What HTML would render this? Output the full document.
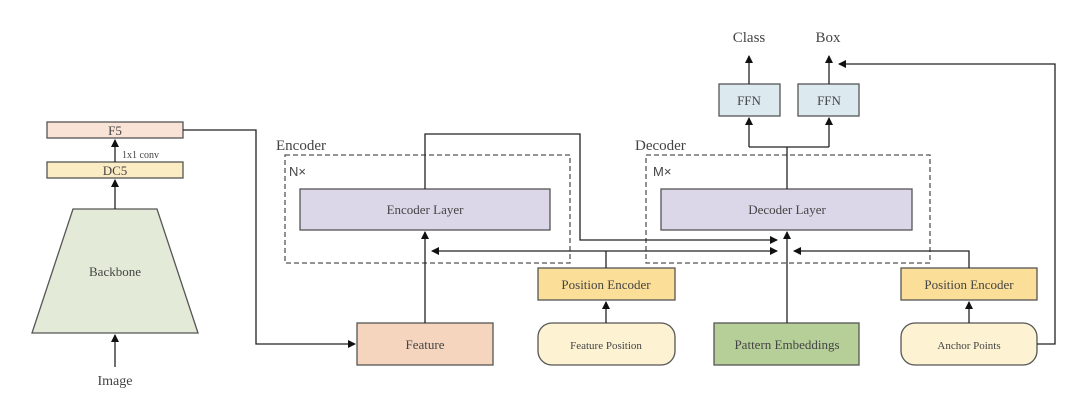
<!DOCTYPE html>
<html><head><meta charset="utf-8"><style>
html,body{margin:0;padding:0;background:#fff;}
svg{display:block;}
text{font-family:"Liberation Serif","DejaVu Serif",serif;fill:#444;}
</style></head><body>
<svg width="1080" height="405" viewBox="0 0 1080 405" xmlns="http://www.w3.org/2000/svg">
<defs>
<marker id="a" markerWidth="8" markerHeight="8" refX="7" refY="4" orient="auto" markerUnits="userSpaceOnUse">
<path d="M0,0 L8,4 L0,8 z" fill="#111"/></marker>
</defs>
<g stroke="#555" stroke-width="1.3">
<!-- left -->
<rect x="47" y="122" width="136" height="16" fill="#f9e3d6"/>
<rect x="47" y="162" width="136" height="16" fill="#fcecc4"/>
<polygon points="73,209 157,209 198,333 32,333" fill="#e3ebd8"/>
<!-- encoder -->
<rect x="285" y="155" width="285" height="108" fill="none" stroke-dasharray="5,3"/>
<rect x="300" y="189" width="250" height="41" fill="#dcd7e8"/>
<rect x="357" y="323" width="136" height="42" fill="#f6d5bf"/>
<rect x="538" y="268" width="137" height="32" fill="#fbdf99"/>
<rect x="538" y="323" width="137" height="42" rx="14" fill="#fdf2d2"/>
<!-- decoder -->
<rect x="646" y="155" width="284" height="108" fill="none" stroke-dasharray="5,3"/>
<rect x="661" y="189" width="251" height="41" fill="#dcd7e8"/>
<rect x="714" y="323" width="145" height="42" fill="#b6cf98"/>
<rect x="719" y="84" width="61" height="32" fill="#dceaf0"/>
<rect x="798" y="84" width="61" height="32" fill="#dceaf0"/>
<rect x="901" y="268" width="136" height="32" fill="#fbdf99"/>
<rect x="901" y="323" width="136" height="42" rx="14" fill="#fdf2d2"/>
</g>
<g stroke="#222" stroke-width="1.3" fill="none">
<line x1="115" y1="209" x2="115" y2="180" marker-end="url(#a)"/>
<line x1="115" y1="162" x2="115" y2="140" marker-end="url(#a)"/>
<line x1="115" y1="367" x2="115" y2="335" marker-end="url(#a)"/>
<polyline points="183,130 256,130 256,344 355,344" marker-end="url(#a)"/>
<line x1="425" y1="323" x2="425" y2="232" marker-end="url(#a)"/>
<polyline points="425,189 425,134 580,134 580,240 777,240" marker-end="url(#a)"/>
<line x1="606" y1="268" x2="606" y2="251"/>
<line x1="606" y1="251" x2="432" y2="251" marker-end="url(#a)"/>
<line x1="606" y1="251" x2="777" y2="251" marker-end="url(#a)"/>
<line x1="606" y1="323" x2="606" y2="302" marker-end="url(#a)"/>
<line x1="787" y1="323" x2="787" y2="232" marker-end="url(#a)"/>
<polyline points="787,189 787,147"/>
<polyline points="749,147 829,147"/>
<line x1="749" y1="147" x2="749" y2="118" marker-end="url(#a)"/>
<line x1="829" y1="147" x2="829" y2="118" marker-end="url(#a)"/>
<line x1="749" y1="84" x2="749" y2="56" marker-end="url(#a)"/>
<line x1="829" y1="84" x2="829" y2="56" marker-end="url(#a)"/>
<line x1="969" y1="323" x2="969" y2="302" marker-end="url(#a)"/>
<polyline points="969,268 969,251 794,251" marker-end="url(#a)"/>
<polyline points="1037,344 1055,344 1055,64 839,64" marker-end="url(#a)"/>
</g>
<g text-anchor="middle" font-size="13">
<text x="115" y="135">F5</text>
<text x="115" y="175">DC5</text>
<text x="115" y="276">Backbone</text>
<text x="115" y="385" font-size="14">Image</text>
<text x="425" y="214">Encoder Layer</text>
<text x="425" y="349">Feature</text>
<text x="606" y="289">Position Encoder</text>
<text x="606" y="349" font-size="11">Feature Position</text>
<text x="787" y="214">Decoder Layer</text>
<text x="787" y="349">Pattern Embeddings</text>
<text x="749" y="105">FFN</text>
<text x="829" y="105">FFN</text>
<text x="749" y="42" font-size="15">Class</text>
<text x="828" y="42" font-size="15">Box</text>
<text x="969" y="289">Position Encoder</text>
<text x="969" y="349" font-size="11">Anchor Points</text>
</g>
<text x="122" y="158" font-size="10">1x1 conv</text>
<text x="276" y="150" font-size="15">Encoder</text>
<text x="635" y="150" font-size="15">Decoder</text>
<text x="289" y="176" font-size="13" style="font-family:'Liberation Sans',sans-serif">N×</text>
<text x="653" y="176" font-size="13" style="font-family:'Liberation Sans',sans-serif">M×</text>
</svg>
</body></html>
